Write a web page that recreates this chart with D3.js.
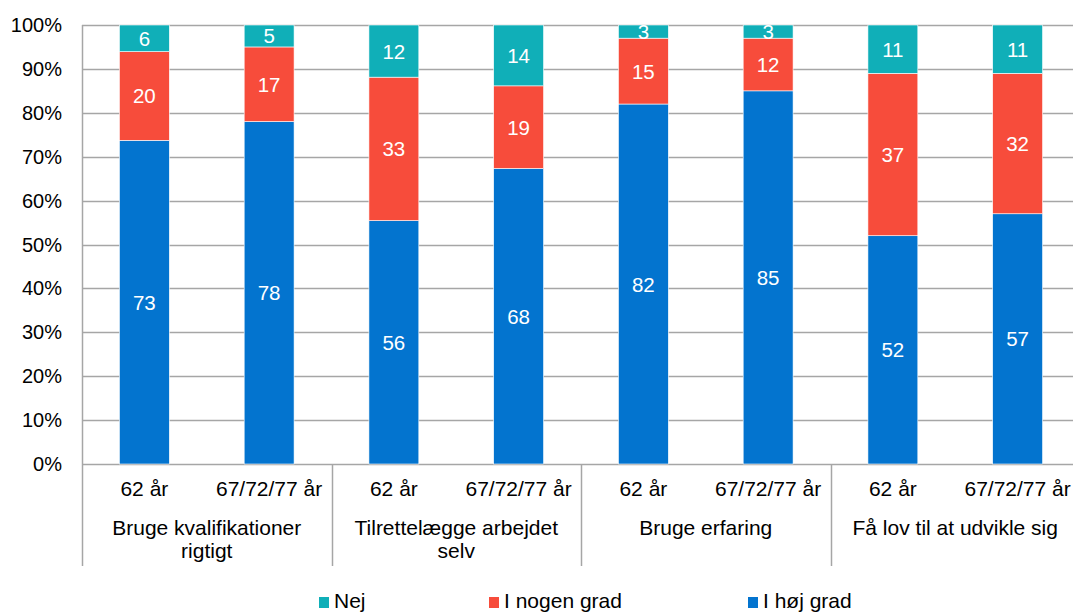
<html lang="da"><head>
<meta charset="UTF-8">
<title>Stacked bars</title>
<script src="https://cdn.jsdelivr.net/npm/d3@7"></script>
<style>
body { margin: 0; background: #fff; }
text { font-family: Arial, "Liberation Sans", sans-serif; }
</style>
</head>
<body>
<script>

var width = 1073;
var height = 612;

// categories
var groups = [["Bruge kvalifikationer", "rigtigt"], ["Tilrettelægge arbejdet", "selv"], ["Bruge erfaring"], ["Få lov til at udvikle sig"]];
var ages = ["62 år", "67/72/77 år"];
var seriesNames = ["I høj grad", "I nogen grad", "Nej"];
var seriesColors = ["#0374CF", "#F74C3B", "#10AFB8"];

// values per bar (group order, then age)
var hoej = [73, 78, 56, 68, 82, 85, 52, 57];
var nogen = [20, 17, 33, 19, 15, 12, 37, 32];
var nej = [6, 5, 12, 14, 3, 3, 11, 11];

var yTicks = [0, 0.1, 0.2, 0.3, 0.4, 0.5, 0.6, 0.7, 0.8, 0.9, 1];

var bars = [];
groups.forEach(function(g, gi){
  ages.forEach(function(a, ai){
    var i = gi * 2 + ai;
    bars.push({key: gi + "_" + ai, group: gi, age: a, "I høj grad": hoej[i], "I nogen grad": nogen[i], "Nej": nej[i]});
  });
});

var plotLeft = 82, plotRight = 1080, plotTop = 25, plotBottom = 464;

var svg = d3.select("body").append("svg")
  .attr("width", width)
  .attr("height", height);

var x = d3.scaleBand()
  .domain(bars.map(function(d){ return d.key; }))
  .range([plotLeft, plotRight])
  .paddingInner(0.6)
  .paddingOuter(0.3);

var y = d3.scaleLinear().domain([0, 1]).range([plotBottom, plotTop]);

var stack = d3.stack().keys(seriesNames).offset(d3.stackOffsetExpand);
var stacked = stack(bars);

// grid
svg.append("g").selectAll("line")
  .data(yTicks).enter().append("line")
  .attr("x1", plotLeft).attr("x2", plotRight)
  .attr("y1", function(d){ return Math.round(y(d)) + 0.5; })
  .attr("y2", function(d){ return Math.round(y(d)) + 0.5; })
  .attr("stroke", "#a6a6a6")
  .attr("stroke-width", 1.5);

svg.append("g").selectAll("text")
  .data(yTicks).enter().append("text")
  .attr("x", 62)
  .attr("y", function(d){ return y(d) + 7; })
  .attr("text-anchor", "end")
  .attr("font-size", 20)
  .attr("fill", "#000")
  .text(d3.format(".0%"));

// bars
var layer = svg.append("g").selectAll("g")
  .data(stacked).enter().append("g")
  .attr("fill", function(d, i){ return seriesColors[i]; });

layer.selectAll("rect")
  .data(function(d){ return d; }).enter().append("rect")
  .attr("x", function(d){ return x(d.data.key); })
  .attr("width", x.bandwidth())
  .attr("y", function(d){ return y(d[1]); })
  .attr("height", function(d){ return y(d[0]) - y(d[1]); })
  .attr("stroke", "#ffffff")
  .attr("stroke-width", 0.6);

layer.each(function(s){
  d3.select(this).selectAll("text.val")
    .data(s).enter().append("text")
    .attr("class", "val")
    .attr("x", function(d){ return x(d.data.key) + x.bandwidth() / 2; })
    .attr("y", function(d){ return (y(d[0]) + y(d[1])) / 2 + 7.5; })
    .attr("text-anchor", "middle")
    .attr("font-size", 20.5)
    .attr("fill", "#fff")
    .text(function(d){ return d.data[s.key]; });
});

// axis lines
var groupW = (plotRight - plotLeft) / groups.length;
var dividers = d3.range(groups.length).map(function(i){ return plotLeft + i * groupW; });

svg.append("g").selectAll("line")
  .data(dividers).enter().append("line")
  .attr("x1", function(d){ return Math.round(d) + 0.5; })
  .attr("x2", function(d){ return Math.round(d) + 0.5; })
  .attr("y1", function(d, i){ return i == 0 ? plotTop : plotBottom; })
  .attr("y2", 566)
  .attr("stroke", "#a6a6a6")
  .attr("stroke-width", 1.5);

// category labels
svg.append("g").selectAll("text")
  .data(bars).enter().append("text")
  .attr("x", function(d){ return x(d.key) + x.bandwidth() / 2; })
  .attr("y", 496)
  .attr("text-anchor", "middle")
  .attr("font-size", 21)
  .text(function(d){ return d.age; });

var gl = svg.append("g").selectAll("text")
  .data(groups).enter().append("text")
  .attr("x", function(d, i){ return plotLeft + i * groupW + groupW / 2; })
  .attr("y", 535)
  .attr("text-anchor", "middle")
  .attr("font-size", 21);

gl.selectAll("tspan")
  .data(function(d){ return d; }).enter().append("tspan")
  .attr("x", function(){ return d3.select(this.parentNode).attr("x"); })
  .attr("dy", function(d, i){ return i == 0 ? 0 : 23; })
  .text(function(d){ return d; });

// legend
var legendItems = [{name: "Nej", x: 319}, {name: "I nogen grad", x: 489}, {name: "I høj grad", x: 748}];
var lg = svg.append("g").selectAll("g")
  .data(legendItems).enter().append("g")
  .attr("transform", function(d){ return "translate(" + d.x + ",597)"; });

lg.append("rect")
  .attr("width", 10).attr("height", 11)
  .attr("fill", function(d){ return seriesColors[seriesNames.indexOf(d.name)]; });

lg.append("text")
  .attr("x", 15)
  .attr("y", 11)
  .attr("font-size", 21)
  .text(function(d){ return d.name; });

</script>
</body></html>
